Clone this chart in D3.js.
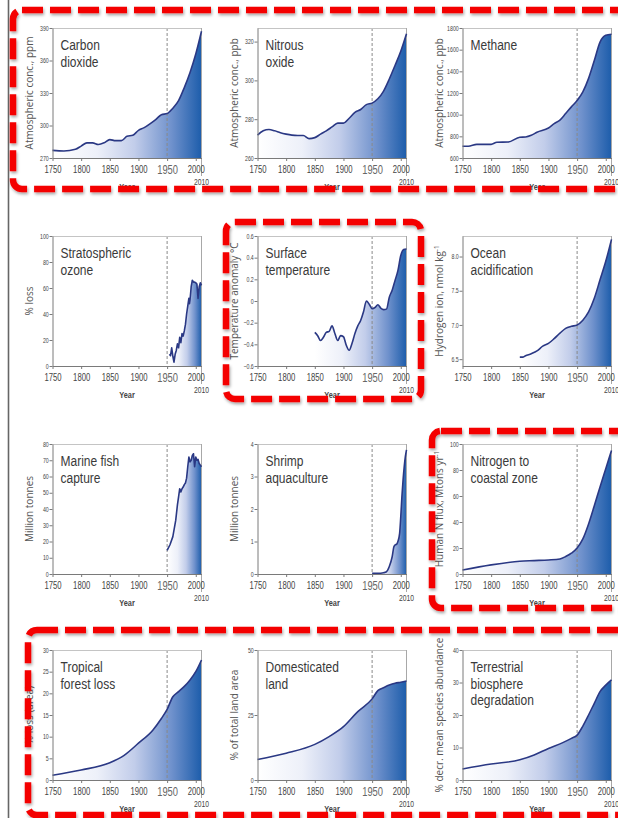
<!DOCTYPE html>
<html>
<head>
<meta charset="utf-8">
<script src="https://cdn.jsdelivr.net/npm/d3@7"></script>
<style>
  body { margin: 0; background: #fff; }
  svg { display: block; }
</style>
</head>
<body>
<svg id="chart" width="618" height="818"></svg>
<script>
// ---- Series, as [year, value] ----
const carbonDioxide = [[1750,277],[1770,276.5],[1790,278],[1800,281],[1810,284],[1820,284],[1830,282.5],[1840,284],[1850,287],[1860,286],[1870,286],[1880,290],[1890,291],[1900,295.5],[1910,298],[1920,301.5],[1930,305.5],[1940,310],[1950,311],[1960,316],[1970,323],[1980,335],[1990,349],[2000,366],[2010,387]];
const nitrousOxide = [[1750,271.8],[1760,274],[1770,274.7],[1780,274],[1790,273],[1800,272.3],[1810,271.8],[1820,271.6],[1830,271.6],[1840,270],[1850,270.5],[1860,272.3],[1870,274],[1880,276],[1890,278],[1900,278],[1910,280.5],[1920,283.5],[1930,285],[1940,287.5],[1950,288.3],[1960,290.5],[1970,294.5],[1980,300.7],[1990,307.7],[2000,315],[2010,324]];
const methane = [[1750,708],[1760,708],[1775,726],[1800,726],[1810,745],[1830,748],[1850,792],[1860,794],[1870,809],[1880,838],[1900,877],[1910,917],[1920,950],[1930,1010],[1940,1072],[1950,1130],[1960,1210],[1970,1335],[1980,1500],[1990,1670],[2000,1732],[2010,1742]];
const ozoneLoss = [[1954,9],[1956,8],[1958,14],[1960,7.5],[1962,3],[1964,9],[1966,12],[1968,17],[1970,14],[1972,22],[1974,18],[1976,25],[1978,23],[1980,27],[1982,32],[1984,40],[1986,46],[1988,52],[1989,48],[1990,51],[1992,61],[1994,66],[1996,64.5],[1998,64.5],[2000,64],[2002,63],[2004,52],[2006,61],[2008,64],[2010,62]];
const temperatureAnomaly = [[1850,-0.29],[1855,-0.32],[1860,-0.365],[1865,-0.335],[1870,-0.29],[1875,-0.28],[1880,-0.23],[1885,-0.30],[1890,-0.365],[1895,-0.32],[1900,-0.33],[1905,-0.41],[1910,-0.455],[1915,-0.39],[1920,-0.30],[1925,-0.23],[1930,-0.18],[1935,-0.10],[1940,0],[1945,-0.03],[1950,-0.07],[1955,-0.06],[1960,-0.035],[1965,-0.065],[1970,-0.08],[1975,-0.075],[1980,0.035],[1985,0.10],[1990,0.19],[1995,0.28],[2000,0.42],[2005,0.475],[2010,0.48]];
const hydrogenIon = [[1850,6.53],[1855,6.53],[1860,6.55],[1870,6.58],[1880,6.62],[1890,6.69],[1900,6.73],[1910,6.80],[1920,6.88],[1930,6.95],[1940,6.98],[1950,7.0],[1960,7.07],[1970,7.19],[1980,7.39],[1990,7.66],[2000,7.93],[2010,8.25]];
const fishCapture = [[1950,14.5],[1955,18],[1960,23],[1965,33],[1968,42.5],[1970,47.5],[1972,52.5],[1974,50.5],[1976,52.5],[1978,53.5],[1980,55],[1982,56],[1984,59],[1986,66],[1988,72],[1990,69],[1992,70],[1994,73],[1996,74],[1998,66],[2000,72],[2002,70],[2004,70.5],[2006,68],[2008,67],[2010,66]];
const shrimpAquaculture = [[1950,0.02],[1960,0.02],[1970,0.04],[1975,0.07],[1980,0.23],[1985,0.53],[1988,0.84],[1990,0.89],[1993,0.92],[1995,1.0],[1998,1.25],[2000,1.76],[2002,2.38],[2004,2.89],[2006,3.3],[2008,3.61],[2010,3.82]];
const nitrogenFlux = [[1750,3],[1800,7],[1850,9.8],[1875,10.3],[1900,10.8],[1920,11.6],[1930,13.4],[1940,16],[1950,20],[1960,27],[1970,38.5],[1980,52.5],[1990,67],[2000,81],[2010,95]];
const forestLoss = [[1750,1.1],[1800,2.3],[1850,4.0],[1875,5.7],[1900,8.5],[1925,11.5],[1940,14.2],[1950,16.3],[1960,19.2],[1970,20.4],[1980,21.6],[1990,23.1],[2000,25],[2010,27.7]];
const domesticatedLand = [[1750,7.9],[1800,10.3],[1850,13.7],[1875,16.7],[1900,20.5],[1925,26.3],[1950,31.2],[1960,34.4],[1970,35.5],[1980,36.5],[1990,37.2],[2000,37.6],[2010,38.1]];
const biosphereDegradation = [[1750,3.4],[1800,4.9],[1850,6.2],[1875,7.7],[1900,9.7],[1925,11.5],[1940,12.8],[1950,13.8],[1960,16.6],[1970,20],[1980,23.6],[1990,27.2],[2000,29.2],[2010,30.8]];

// ---- Axis ticks ----
const yearTicks = [1750, 1800, 1850, 1900, 1950, 2000];
const co2Ticks = [270, 300, 330, 360, 390];
const n2oTicks = [260, 280, 300, 320];
const ch4Ticks = [600, 800, 1000, 1200, 1400, 1600, 1800];
const ozoneTicks = [0, 20, 40, 60, 80, 100];
const tempTicks = [-0.6, -0.4, -0.2, 0, 0.2, 0.4, 0.6];
const hydrogenTicks = [6.5, 7.0, 7.5, 8.0];
const fishTicks = [0, 10, 20, 30, 40, 50, 60, 70, 80];
const shrimpTicks = [0, 1, 2, 3, 4];
const nitrogenTicks = [0, 20, 40, 60, 80, 100];
const forestTicks = [0, 5, 10, 15, 20, 25, 30];
const landTicks = [0, 25, 50];
const biosphereTicks = [0, 10, 20, 30, 40];

const intFmt = d3.format("d");
const oneDec = d3.format(".1f");
const tempFmt = d => d === 0 ? "0" : oneDec(d);

const panels = [
  { title: ["Carbon", "dioxide"], yLabel: "Atmospheric conc., ppm", domain: [270, 390], ticks: co2Ticks, fmt: intFmt, data: carbonDioxide, smooth: true },
  { title: ["Nitrous", "oxide"], yLabel: "Atmospheric conc., ppb", domain: [260, 327], ticks: n2oTicks, fmt: intFmt, data: nitrousOxide, smooth: true },
  { title: ["Methane"], yLabel: "Atmospheric conc., ppb", domain: [600, 1800], ticks: ch4Ticks, fmt: intFmt, data: methane, smooth: true },
  { title: ["Stratospheric", "ozone"], yLabel: "% loss", domain: [0, 100], ticks: ozoneTicks, fmt: intFmt, data: ozoneLoss, smooth: false },
  { title: ["Surface", "temperature"], yLabel: "Temperature anomaly °C", domain: [-0.6, 0.6], ticks: tempTicks, fmt: tempFmt, data: temperatureAnomaly, smooth: true },
  { title: ["Ocean", "acidification"], yLabel: "Hydrogen ion, nmol kg", sup: "-1", domain: [6.4, 8.3], ticks: hydrogenTicks, fmt: oneDec, data: hydrogenIon, smooth: true },
  { title: ["Marine fish", "capture"], yLabel: "Million tonnes", domain: [0, 80], ticks: fishTicks, fmt: intFmt, data: fishCapture, smooth: false },
  { title: ["Shrimp", "aquaculture"], yLabel: "Million tonnes", domain: [0, 4], ticks: shrimpTicks, fmt: intFmt, data: shrimpAquaculture, smooth: true },
  { title: ["Nitrogen to", "coastal zone"], yLabel: "Human N flux, Mtons yr", sup: "-1", domain: [0, 100], ticks: nitrogenTicks, fmt: intFmt, data: nitrogenFlux, smooth: true },
  { title: ["Tropical", "forest loss"], yLabel: "% loss (area)", domain: [0, 30], ticks: forestTicks, fmt: intFmt, data: forestLoss, smooth: true },
  { title: ["Domesticated", "land"], yLabel: "% of total land area", domain: [0, 50], ticks: landTicks, fmt: intFmt, data: domesticatedLand, smooth: true },
  { title: ["Terrestrial", "biosphere", "degradation"], yLabel: "% decr. mean species abundance", domain: [0, 40], ticks: biosphereTicks, fmt: intFmt, data: biosphereDegradation, smooth: true }
];

// ---- Layout ----
const W = 149, H = 130;
const colX = [52.5, 257.5, 462.5];
const rowY = [28, 236, 444, 650];
const FONT = "'Liberation Sans', Arial, sans-serif";
const FONT_V = "'Open Sans', 'Noto Sans', sans-serif";
const LINE = "#2a3884";
const AXIS = "#7a7a7a";

const svg = d3.select("#chart");
const defs = svg.append("defs");

const grad = defs.append("linearGradient")
  .attr("id", "areaFill").attr("x1", 0).attr("x2", 1).attr("y1", 0).attr("y2", 0);
[[0, "#ffffff"], [0.3, "#edf0f9"], [0.55, "#c2cdea"], [0.8, "#6f91cc"], [1, "#1d5dab"]]
  .forEach(([o, c]) => grad.append("stop").attr("offset", o).attr("stop-color", c));

const shadow = defs.append("filter").attr("id", "boxShadow")
  .attr("x", "-5%").attr("y", "-5%").attr("width", "110%").attr("height", "110%");
shadow.append("feDropShadow").attr("dx", 1).attr("dy", 2).attr("stdDeviation", 1.5)
  .attr("flood-color", "#000").attr("flood-opacity", 0.35);

// page edge rule on the left
svg.append("line").attr("x1", 8.5).attr("x2", 8.5).attr("y1", 0).attr("y2", 818)
  .attr("stroke", "#666").attr("stroke-width", 1.6);

const x = d3.scaleLinear().domain([1750, 2010]).range([0, W]);

panels.forEach((p, i) => {
  const col = i % 3, row = Math.floor(i / 3);
  const g = svg.append("g").attr("transform", `translate(${colX[col]},${rowY[row]})`);
  const y = d3.scaleLinear().domain(p.domain).range([H, 0]);
  const curve = p.smooth ? d3.curveMonotoneX : d3.curveLinear;

  const area = d3.area().x(d => x(d[0])).y0(H).y1(d => y(d[1])).curve(curve);
  const line = d3.line().x(d => x(d[0])).y(d => y(d[1])).curve(curve);

  g.append("path").datum(p.data).attr("d", area).attr("fill", "url(#areaFill)");

  // 1950 reference
  g.append("line").attr("x1", x(1950)).attr("x2", x(1950)).attr("y1", 0).attr("y2", H)
    .attr("stroke", "#8a8a8a").attr("stroke-width", 1).attr("stroke-dasharray", "3,2");

  // frame top and right, right edge continues down to the 2010 label
  g.append("line").attr("x1", 0).attr("x2", W).attr("y1", 0.5).attr("y2", 0.5)
    .attr("stroke", "#c4c4c4").attr("stroke-width", 1);
  g.append("line").attr("x1", x(2010)).attr("x2", x(2010)).attr("y1", 0).attr("y2", H + 18)
    .attr("stroke", "#a8a8a8").attr("stroke-width", 1);

  g.append("path").datum(p.data).attr("d", line)
    .attr("fill", "none").attr("stroke", LINE).attr("stroke-width", 1.6)
    .attr("stroke-linejoin", "round");

  // y axis
  const ya = g.append("g").call(d3.axisLeft(y).tickValues(p.ticks).tickFormat(p.fmt)
    .tickSize(3).tickSizeOuter(0).tickPadding(2));
  ya.select(".domain").attr("stroke", AXIS);
  ya.selectAll(".tick line").attr("stroke", AXIS);
  ya.selectAll(".tick text").attr("font-family", FONT).attr("font-size", 7)
    .attr("fill", "#444").attr("transform", "scale(0.75,1)");

  // x axis
  const xa = g.append("g").attr("transform", `translate(0,${H})`)
    .call(d3.axisBottom(x).tickValues(yearTicks).tickFormat(intFmt)
      .tickSize(3).tickSizeOuter(0).tickPadding(4));
  xa.select(".domain").attr("stroke", AXIS);
  xa.selectAll(".tick line").attr("stroke", AXIS);
  xa.selectAll(".tick text").attr("font-family", FONT)
    .attr("font-size", d => d === 1950 ? 13 : 11)
    .attr("fill", d => d === 1950 ? "#666" : "#444")
    .attr("transform", d => d === 1950 ? "scale(0.72,1)" : "scale(0.7,1)");

  g.append("text").attr("transform", `translate(${x(2010)},${H + 27}) scale(0.75,1)`)
    .attr("text-anchor", "middle").attr("font-family", FONT).attr("font-size", 9)
    .attr("fill", "#444").text("2010");

  g.append("text").attr("transform", `translate(${W / 2},${H + 32}) scale(0.82,1)`)
    .attr("text-anchor", "middle").attr("font-family", FONT).attr("font-size", 9)
    .attr("font-weight", "bold").attr("fill", "#444").text("Year");

  // y axis title
  const yl = g.append("text").attr("transform", `translate(-19.5,${H / 2}) rotate(-90)`)
    .attr("text-anchor", "middle").attr("font-family", FONT_V).attr("font-size", 10)
    .attr("fill", "#555").text(p.yLabel);
  if (p.sup) yl.append("tspan").attr("font-size", 6.5).attr("dy", -4).text(p.sup);

  // panel title, one text per line
  p.title.forEach((s, k) => {
    g.append("text").attr("transform", `translate(8,${22 + k * 16.7}) scale(0.84,1)`)
      .attr("font-family", FONT).attr("font-size", 14.3).attr("fill", "#3a3a3a").text(s);
  });
});

// red dashed highlight frames
const highlightFrames = [
  { x: 13, y: 10, w: 640, h: 179 },
  { x: 226, y: 222, w: 195, h: 177 },
  { x: 432, y: 431, w: 220, h: 177 },
  { x: 28, y: 630, w: 640, h: 185 }
];
svg.append("g").selectAll("rect").data(highlightFrames).join("rect")
  .attr("x", d => d.x).attr("y", d => d.y).attr("width", d => d.w).attr("height", d => d.h)
  .attr("rx", 9).attr("fill", "none").attr("stroke", "#f40000").attr("stroke-width", 6.5)
  .attr("stroke-dasharray", "21,7").attr("filter", "url(#boxShadow)");
</script>
</body>
</html>
